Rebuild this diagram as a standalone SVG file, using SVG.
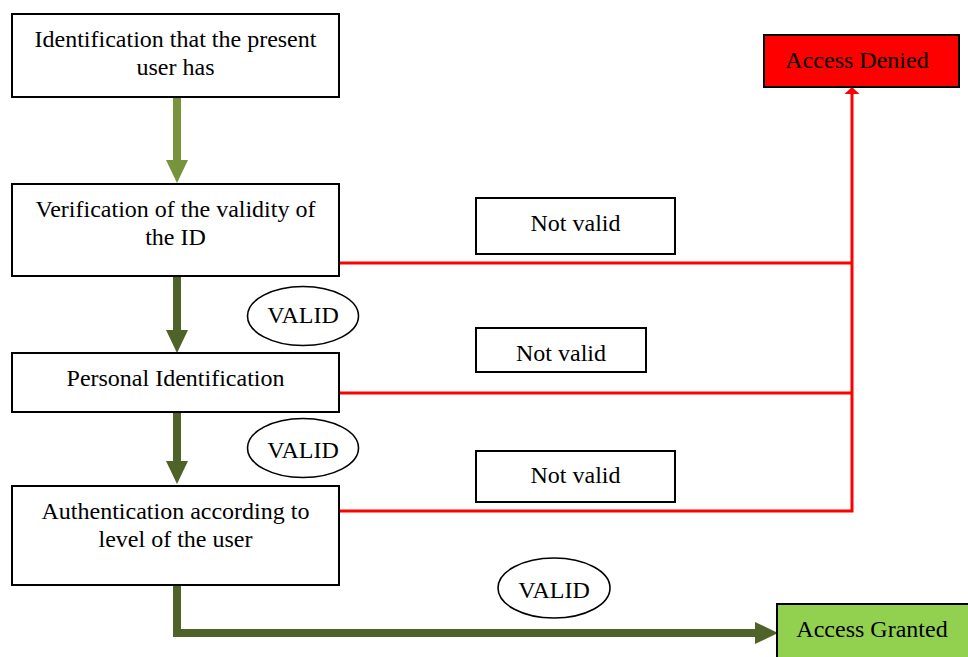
<svg xmlns="http://www.w3.org/2000/svg" width="968" height="657" viewBox="0 0 968 657">
<style>
.box{fill:#fff;stroke:#000;stroke-width:2}
.oval{fill:#fff;stroke:#000;stroke-width:1.6}
.t{font-family:'Liberation Serif','Times New Roman',serif;font-size:24px;fill:#000;text-anchor:middle}
.g1{fill:none;stroke:#77933C;stroke-width:8}
.g2{fill:none;stroke:#4F6228;stroke-width:8}
.r{fill:none;stroke:#FF0000;stroke-width:3}
</style>
<defs>
<marker id="ah1" markerUnits="userSpaceOnUse" markerWidth="23" markerHeight="22" refX="2" refY="11" orient="auto"><path d="M0,0 L23,11 L0,22 z" fill="#77933C"/></marker>
<marker id="ah2" markerUnits="userSpaceOnUse" markerWidth="23" markerHeight="22" refX="2" refY="11" orient="auto"><path d="M0,0 L23,11 L0,22 z" fill="#4F6228"/></marker>
<marker id="ahr" markerUnits="userSpaceOnUse" markerWidth="8" markerHeight="15" refX="1" refY="7.5" orient="auto"><path d="M0,0 L7,7.5 L0,15 z" fill="#FF0000"/></marker>
</defs>
<rect width="968" height="657" fill="#fff"/>
<g id="connectors">
<path class="g1" d="M177,97 V162" marker-end="url(#ah1)"/>
<path class="g2" d="M177,276 V332" marker-end="url(#ah2)"/>
<path class="g2" d="M177,412 V463" marker-end="url(#ah2)"/>
<path class="g2" d="M177,585 V633 H757" marker-end="url(#ah2)"/>
<path class="r" d="M339,263 H852"/>
<path class="r" d="M339,393 H852"/>
<path class="r" d="M339,511 H852 V93" marker-end="url(#ahr)"/>
</g>
<g id="n1"><rect class="box" x="12" y="14" width="327" height="83"/><text class="t" x="175.5" y="47">Identification that the present</text><text class="t" x="175.5" y="75">user has</text></g>
<g id="n2"><rect class="box" x="12" y="184" width="327" height="92"/><text class="t" x="175.5" y="217">Verification of the validity of</text><text class="t" x="175.5" y="245">the ID</text></g>
<g id="n3"><rect class="box" x="12" y="353" width="327" height="59"/><text class="t" x="175.5" y="386">Personal Identification</text></g>
<g id="n4"><rect class="box" x="12" y="486" width="327" height="99"/><text class="t" x="175.5" y="519">Authentication according to</text><text class="t" x="175.5" y="547">level of the user</text></g>
<g id="v1"><ellipse class="oval" cx="303" cy="316" rx="55.5" ry="29.5"/><text class="t" x="303" y="323">VALID</text></g>
<g id="v2"><ellipse class="oval" cx="303" cy="448" rx="55.5" ry="29.5"/><text class="t" x="303" y="458">VALID</text></g>
<g id="v3"><ellipse class="oval" cx="554" cy="588" rx="56" ry="30"/><text class="t" x="554" y="598">VALID</text></g>
<g id="nv1"><rect class="box" x="476" y="198" width="199" height="56"/><text class="t" x="575.5" y="231">Not valid</text></g>
<g id="nv2"><rect class="box" x="476" y="328" width="170" height="44"/><text class="t" x="561" y="361">Not valid</text></g>
<g id="nv3"><rect class="box" x="476" y="451" width="199" height="51"/><text class="t" x="575.5" y="483">Not valid</text></g>
<g id="denied"><rect class="box" x="764" y="35" width="195" height="52" style="fill:#FF0000"/><text class="t" x="857" y="68">Access Denied</text></g>
<g id="granted"><rect class="box" x="777" y="604" width="200" height="60" style="fill:#92D050"/><text class="t" x="872" y="637">Access Granted</text></g>
</svg>
